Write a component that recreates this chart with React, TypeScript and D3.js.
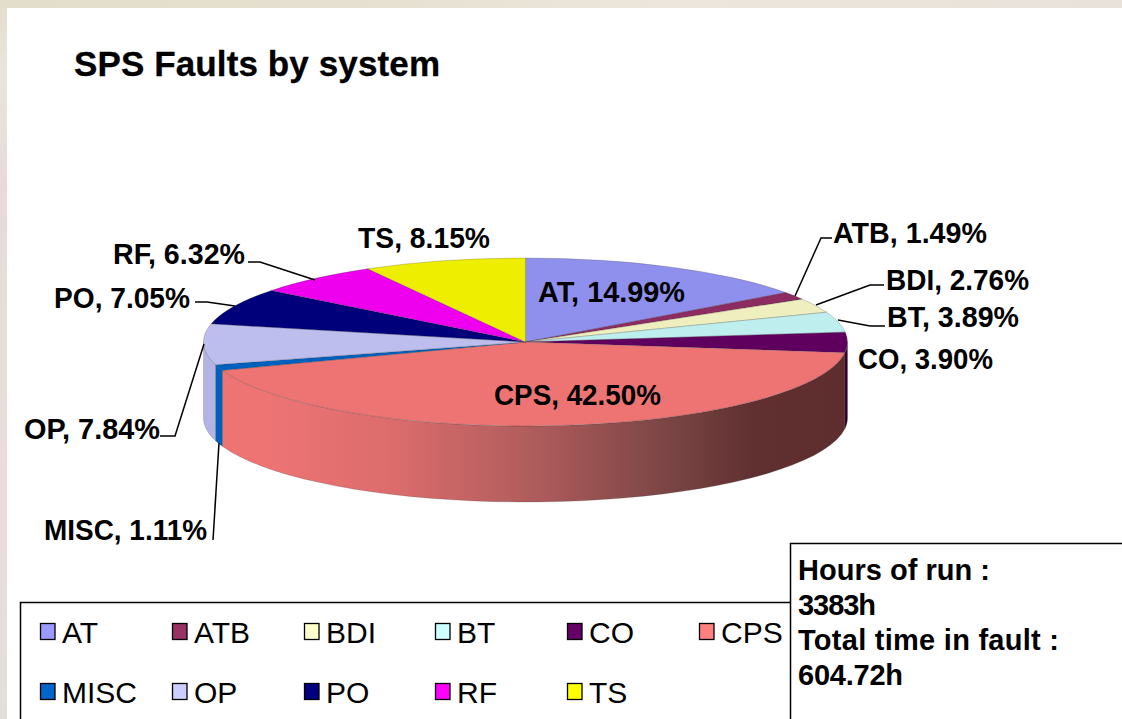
import React from "react";
import * as d3 from "d3";

const categories = ["AT", "ATB", "BDI", "BT", "CO", "CPS", "MISC", "OP", "PO", "RF", "TS"];
const shares = [14.99, 1.49, 2.76, 3.89, 3.9, 42.5, 1.11, 7.84, 7.05, 6.32, 8.15];
const sliceColors = ["#8F8FEE", "#8C2C60", "#EEEEBE", "#BEEEEE", "#5F005F", "#EE7474", "#0060BE", "#BEBEEE", "#00007A", "#EE00EE", "#EEEE00"];
const wallColors = ["#6b6bb0", "#5f1f40", "#b0b090", "#90b0b0", "#2E002E", "url(#cpsWall)", "#0060BE", "#B4B4E4", "#00005a", "#a000a0", "#a0a000"];
const legendColors = ["#9999FF", "#993366", "#FFFFCC", "#CCFFFF", "#660066", "#FF8080", "#0066CC", "#CCCCFF", "#000080", "#FF00FF", "#FFFF00"];
const infoLines = ["Hours of run :", "3383h", "Total time in fault :", "604.72h"];
const title = "SPS Faults by system";

// label anchors: text x, baseline y, drawn width
const labelX = [538, 833, 886, 887, 858, 494, 44, 24, 54, 113, 358];
const labelY = [302, 243, 290, 327, 369, 405, 540, 439, 308, 264, 248];
const labelW = [147, 154, 143, 132, 135, 167, 163, 136, 136, 132, 132];
const infoW = [192, 78, 261, 105];
// leader polylines, by category
const leaders: Record<string, [number, number][]> = {
  ATB: [[832, 238], [821, 238], [795, 296]],
  BDI: [[884, 285], [870, 285], [816, 305]],
  BT: [[885, 326], [870, 326], [838, 320]],
  RF: [[248, 262], [260, 262], [315, 280]],
  PO: [[195, 302], [207, 302], [235, 306]],
  OP: [[160, 436], [175, 436], [204, 344]],
  MISC: [[213, 540], [219, 443]],
};

const cx = 525.5, cy = 342, rx = 322, ry = 84, depth = 76;
const sx = (a: number) => cx + rx * Math.sin(a);
const sy = (a: number) => cy - ry * Math.cos(a);

const pie = d3.pie<number>().sort(null);
const arcs = pie(shares);
const arcGen = d3.arc<d3.PieArcDatum<number>>().innerRadius(0).outerRadius(rx);
const lineGen = d3.line<[number, number]>();

function wallPath(a0: number, a1: number) {
  const lo = Math.max(a0, Math.PI / 2);
  const hi = Math.min(a1, (3 * Math.PI) / 2);
  if (hi <= lo) return null;
  const steps = d3.range(0, 41).map((i) => lo + ((hi - lo) * i) / 40);
  const top = steps.map((a) => [sx(a), sy(a)] as [number, number]);
  const bottom = steps.slice().reverse().map((a) => [sx(a), sy(a) + depth] as [number, number]);
  return lineGen([...top, ...bottom]) + "Z";
}

const legendCols = [40, 172, 304, 435, 567, 699];
const legendRows = [624, 684];
const sans = "'Liberation Sans', Arial, sans-serif";

export default function App() {
  return (
    <svg width={1122} height={719} style={{ position: "fixed", left: 0, top: 0 }} fontFamily={sans}>
      <defs>
        <linearGradient id="cpsWall" gradientUnits="userSpaceOnUse" x1={216} x2={848} y1={0} y2={0}>
          <stop offset="0.08" stopColor="#EE7474" />
          <stop offset="0.28" stopColor="#DC6C6C" />
          <stop offset="0.5" stopColor="#B05C5C" />
          <stop offset="0.72" stopColor="#7A4444" />
          <stop offset="0.85" stopColor="#603030" />
          <stop offset="1" stopColor="#5E2E2E" />
        </linearGradient>
        <linearGradient id="edgeV" x1="0" x2="0" y1="0" y2="1">
          <stop offset="0" stopColor="#E3DDCB" />
          <stop offset="0.1" stopColor="#E8E6DC" />
          <stop offset="0.25" stopColor="#E8DADA" />
          <stop offset="0.45" stopColor="#E6DED8" />
          <stop offset="0.7" stopColor="#EBDCDC" />
          <stop offset="1" stopColor="#E2DFDA" />
        </linearGradient>
        <linearGradient id="edgeH" x1="0" x2="1" y1="0" y2="0">
          <stop offset="0" stopColor="#E3DDCB" />
          <stop offset="0.3" stopColor="#E6E0D0" />
          <stop offset="0.6" stopColor="#EDE6DC" />
          <stop offset="1" stopColor="#E8E2DA" />
        </linearGradient>
      </defs>
      <rect width={1122} height={719} fill="#fff" />
      <rect width={1122} height={8} fill="url(#edgeH)" />
      <rect width={7} height={719} fill="url(#edgeV)" />

      <text x={74} y={75.5} fontSize={35} fontWeight="bold" fill="#000" stroke="#000" strokeWidth={0.3} textLength={366}>{title}</text>

      {arcs.map((d, i) => {
        const p = wallPath(d.startAngle, d.endAngle);
        return p ? <path key={i} d={p} fill={wallColors[i]} stroke="#3a3a3a" strokeOpacity={0.35} strokeWidth={0.6} /> : null;
      })}
      <g transform={`translate(${cx},${cy}) scale(1,${ry / rx})`}>
        {arcs.map((d, i) => (
          <path key={i} d={arcGen(d) as string} fill={sliceColors[i]} stroke="#3a3a3a" strokeOpacity={0.4} strokeWidth={0.6} vectorEffect="non-scaling-stroke" />
        ))}
      </g>

      {categories.map((c) =>
        leaders[c] ? <path key={c} d={lineGen(leaders[c]) as string} fill="none" stroke="#000" strokeWidth={1.5} /> : null
      )}
      {categories.map((c, i) => (
        <text key={c} x={labelX[i]} y={labelY[i]} fontSize={28.8} fontWeight="bold" fill="#000" textLength={labelW[i]} lengthAdjust="spacingAndGlyphs">
          {`${c}, ${shares[i].toFixed(2)}%`}
        </text>
      ))}

      <path d="M20.5 719V602.5H790" fill="none" stroke="#000" strokeWidth={1.5} />
      {categories.map((c, i) => {
        const col = legendCols[i % 6];
        const row = legendRows[Math.floor(i / 6)];
        return (
          <g key={c}>
            <rect x={col + 0.5} y={row - 0.5} width={14.5} height={16} fill={legendColors[i]} stroke="#000" strokeWidth={1.3} />
            <text x={col + 22} y={row + 19} fontSize={30} fill="#000">{c}</text>
          </g>
        );
      })}

      <path d="M790.5 719V543.5H1122" fill="none" stroke="#000" strokeWidth={1.5} />
      {infoLines.map((t, i) => (
        <text key={i} x={798} y={580 + i * 35} fontSize={29} fontWeight="bold" fill="#000" textLength={infoW[i]}>{t}</text>
      ))}
    </svg>
  );
}
